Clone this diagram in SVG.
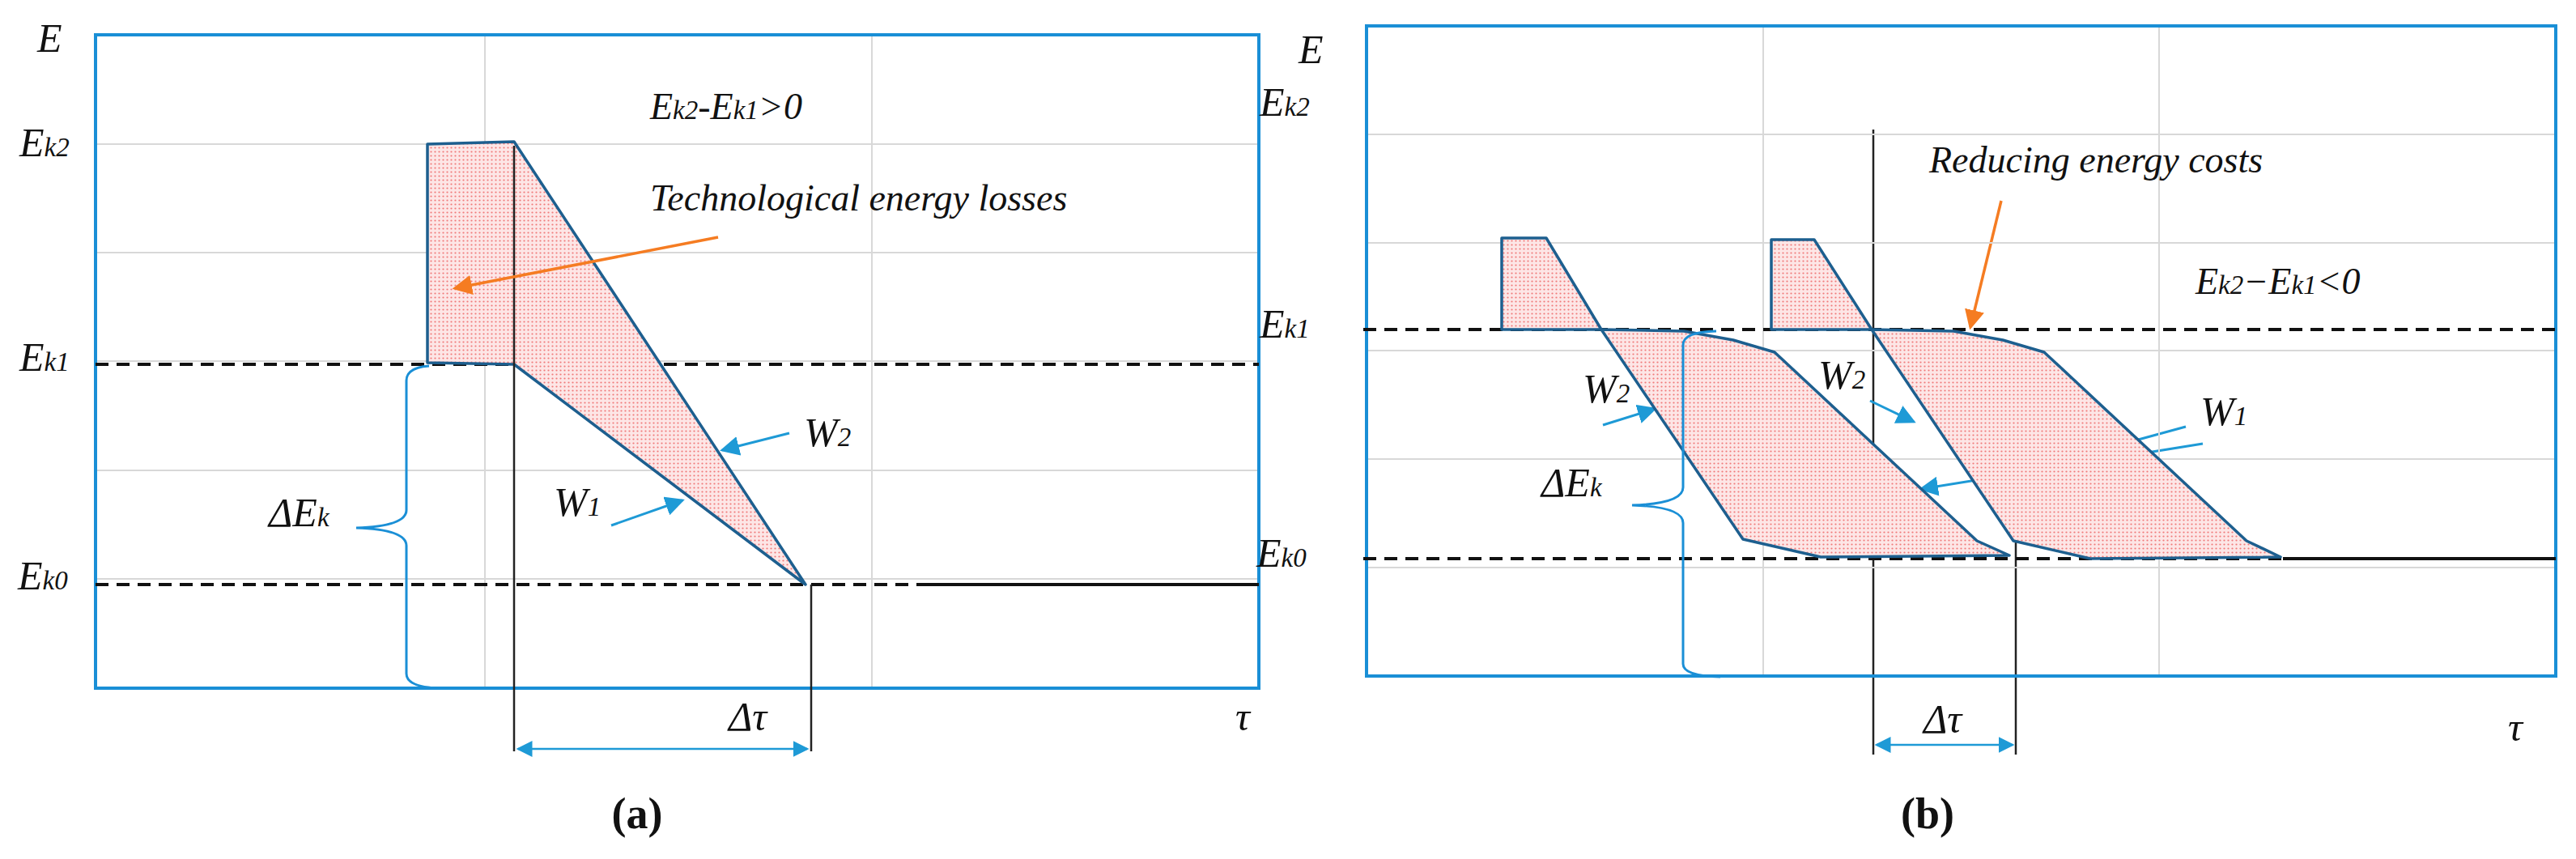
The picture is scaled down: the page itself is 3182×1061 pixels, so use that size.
<svg xmlns="http://www.w3.org/2000/svg" width="3182" height="1061" viewBox="0 0 3182 1061">
<style>
.frame{fill:none;stroke:#1a8fd6;stroke-width:4}
.grid{stroke:#d8d8d8;stroke-width:2;fill:none}
.dash{stroke:#111;stroke-width:4;stroke-dasharray:16,10;fill:none}
.solid{stroke:#111;stroke-width:4;fill:none}
.vl{stroke:#222;stroke-width:2.5;fill:none}
.shape{fill:url(#dots);stroke:#1d5f8f;stroke-width:3.5;stroke-linejoin:round}
.brace{fill:none;stroke:#1a8fd6;stroke-width:3}
.ba{stroke:#1e9ad6;stroke-width:3;fill:none;marker-end:url(#bh)}
.bl{stroke:#1e9ad6;stroke-width:3;fill:none}
.oa{stroke:#f57c22;stroke-width:3.5;fill:none;marker-end:url(#oh)}
.dt{stroke:#1e9ad6;stroke-width:2.5;fill:none;marker-start:url(#bhs);marker-end:url(#bh)}
text{font-family:"Liberation Serif","DejaVu Serif",serif;font-style:italic;fill:#111}
.lab{font-size:50px}
.note{font-size:46px}
.cap{font-style:normal;font-weight:bold;font-size:54px}
.sub{font-size:33px}
</style>
<defs>
<pattern id="dots" width="5" height="5" patternUnits="userSpaceOnUse">
<rect width="5" height="5" fill="#fde6e6"/>
<circle cx="2.5" cy="2.5" r="1.1" fill="#f07a7a"/>
</pattern>
<marker id="bh" markerWidth="8" markerHeight="8" refX="7" refY="4" orient="auto" markerUnits="strokeWidth"><path d="M0,0 L8,4 L0,8 z" fill="#1e9ad6"/></marker>
<marker id="bhs" markerWidth="8" markerHeight="8" refX="1" refY="4" orient="auto" markerUnits="strokeWidth"><path d="M8,0 L0,4 L8,8 z" fill="#1e9ad6"/></marker>
<marker id="oh" markerWidth="7" markerHeight="7" refX="6" refY="3.5" orient="auto" markerUnits="strokeWidth"><path d="M0,0 L7,3.5 L0,7 z" fill="#f57c22"/></marker>
</defs>

<!-- Panel a -->
<g id="panel-a-grid">
<path class="grid" d="M118,178H1555M118,312H1555M118,446H1555M118,581H1555M118,715H1555M599,43V850M1077,43V850"/>
</g>
<g id="panel-a-frame"><rect class="frame" x="118" y="43" width="1437" height="807"/></g>
<g id="panel-a-levels">
<path class="dash" d="M118,450H1555"/>
<path class="dash" d="M118,722H1135"/>
<path class="solid" d="M1135,722H1555"/>
</g>
<g id="panel-a-shape">
<path class="shape" d="M528,178 L635,175 L995,722 L635,450 L528,448 Z"/>
</g>
<g id="panel-a-brace"><path class="brace" d="M530,452 Q502,454 502,470 V630 Q502,650 440,652 Q502,654 502,674 V832 Q502,848 540,850"/></g>
<g id="connectors">
<path class="vl" d="M635,180V928"/>
<path class="vl" d="M1002,722V928"/>
<path class="dt" d="M640,925H997"/>
<path class="oa" d="M887,293L562,356"/>
<path class="ba" d="M755,649L843,618"/>
<path class="ba" d="M975,535L892,556"/>
<path class="vl" d="M2314,160V932"/>
<path class="vl" d="M2490,670V932"/>
<path class="dt" d="M2318,920H2486"/>
<path class="oa" d="M2472,248L2434,404"/>
<path class="ba" d="M1980,525L2044,505"/>
<path class="ba" d="M2310,495L2364,521"/>
<path class="bl" d="M2700,527L2634,545"/>
<path class="ba" d="M2721,548L2373,604"/>
</g>
<g id="panel-a-labels">
<text class="lab" x="46" y="64">E</text>
<text class="lab" x="24" y="193">E<tspan class="sub">k2</tspan></text>
<text class="lab" x="24" y="458">E<tspan class="sub">k1</tspan></text>
<text class="lab" x="22" y="728">E<tspan class="sub">k0</tspan></text>
<text class="lab" x="332" y="650">ΔE<tspan class="sub">k</tspan></text>
<text class="lab" x="684" y="637">W<tspan class="sub">1</tspan></text>
<text class="lab" x="993" y="551">W<tspan class="sub">2</tspan></text>
<text class="lab" x="900" y="902">Δτ</text>
<text class="lab" x="1526" y="902">τ</text>
<text class="note" x="803" y="147">E<tspan class="sub">k2</tspan>-E<tspan class="sub">k1</tspan>&gt;0</text>
<text class="note" x="803" y="260">Technological energy losses</text>
<text class="cap" x="787" y="1023" text-anchor="middle">(a)</text>
</g>

<!-- Panel b -->
<g id="panel-b-grid">
<path class="grid" d="M1688,166H3157M1688,300H3157M1688,433H3157M1688,567H3157M1688,701H3157M2178,32V835M2667,32V835"/>
</g>
<g id="panel-b-frame"><rect class="frame" x="1688" y="32" width="1469" height="803"/></g>
<g id="panel-b-levels">
<path class="dash" d="M1684,407H3157"/>
<path class="dash" d="M1684,690H2820"/>
<path class="solid" d="M2820,690H3157"/>
</g>
<g id="panel-b-shape1">
<path class="shape" d="M1855,294 L1910,294 L1978,407 L1855,407 Z"/>
<path class="shape" d="M1978,407 L2080,409 L2141,420 L2192,435 L2442,668 L2482,686 L2249,688 L2153,666 Z"/>
</g>
<g id="panel-b-shape2">
<path class="shape" d="M2188,296 L2241,296 L2312,407 L2188,407 Z"/>
<path class="shape" d="M2312,407 L2413,409 L2474,420 L2525,435 L2775,668 L2817,688 L2582,690 L2487,668 Z"/>
</g>
<g id="panel-b-brace"><path class="brace" d="M2120,409 Q2079,410 2079,426 V602 Q2079,622 2016,624 Q2079,626 2079,646 V820 Q2079,835 2125,836"/></g>
<g id="panel-b-labels">
<text class="lab" x="1604" y="78">E</text>
<text class="lab" x="1556" y="143">E<tspan class="sub">k2</tspan></text>
<text class="lab" x="1556" y="417">E<tspan class="sub">k1</tspan></text>
<text class="lab" x="1552" y="700">E<tspan class="sub">k0</tspan></text>
<text class="lab" x="1904" y="613">ΔE<tspan class="sub">k</tspan></text>
<text class="lab" x="1955" y="497">W<tspan class="sub">2</tspan></text>
<text class="lab" x="2246" y="480">W<tspan class="sub">2</tspan></text>
<text class="lab" x="2718" y="525">W<tspan class="sub">1</tspan></text>
<text class="lab" x="2376" y="905">Δτ</text>
<text class="lab" x="3098" y="915">τ</text>
<text class="note" x="2383" y="213">Reducing energy costs</text>
<text class="note" x="2712" y="363">E<tspan class="sub">k2</tspan>−E<tspan class="sub">k1</tspan>&lt;0</text>
<text class="cap" x="2381" y="1023" text-anchor="middle">(b)</text>
</g>
</svg>
